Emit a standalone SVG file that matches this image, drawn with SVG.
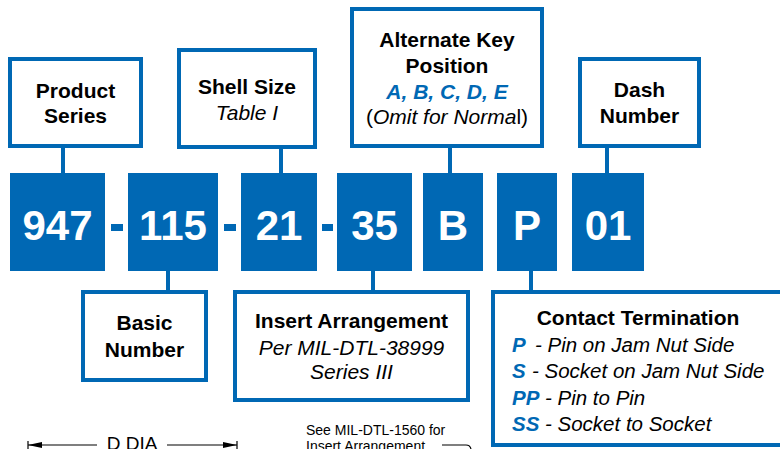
<svg xmlns="http://www.w3.org/2000/svg" width="780" height="449" viewBox="0 0 780 449">
<style>
.box{fill:#fff;stroke:#0068b4;stroke-width:4}
.blk{fill:#0068b4}
.num{font-family:"Liberation Sans",Arial,sans-serif;font-weight:bold;font-size:42px;fill:#fff;text-anchor:middle}
.lbl{font-family:"Liberation Sans",Arial,sans-serif;font-size:21px;fill:#000;text-anchor:middle}
.b{font-weight:bold}
.i{font-style:italic}
.blue{fill:#0068b4;font-weight:bold;font-style:italic}
.ct{font-family:"Liberation Sans",Arial,sans-serif;font-size:20.5px;fill:#000}
.conn line{stroke:#0068b4;stroke-width:4}
.dim{stroke:#000;stroke-width:1.2;fill:none}
.note{font-family:"Liberation Sans",Arial,sans-serif;font-size:14px;fill:#000}
</style>
<rect width="780" height="449" fill="#fff"/>
<g id="connectors" class="conn">
<line x1="63" y1="146" x2="63" y2="174"/>
<line x1="281" y1="146" x2="281" y2="174"/>
<line x1="450" y1="146" x2="450" y2="174"/>
<line x1="607" y1="146" x2="607" y2="174"/>
<line x1="168" y1="270" x2="168" y2="292"/>
<line x1="373" y1="270" x2="373" y2="292"/>
<line x1="531" y1="270" x2="531" y2="292"/>
</g>
<g id="code947"><rect class="blk" x="10" y="173" width="95" height="98"/><text class="num" x="57.5" y="240">947</text></g>
<rect class="blk" x="111" y="224" width="12" height="7"/>
<g id="code115"><rect class="blk" x="128" y="173" width="90" height="98"/><text class="num" x="173" y="240">115</text></g>
<rect class="blk" x="224" y="224" width="12" height="7"/>
<g id="code21"><rect class="blk" x="241" y="173" width="76" height="98"/><text class="num" x="279" y="240">21</text></g>
<rect class="blk" x="322" y="224" width="11" height="7"/>
<g id="code35"><rect class="blk" x="337" y="173" width="75" height="98"/><text class="num" x="374.5" y="240">35</text></g>
<g id="codeB"><rect class="blk" x="423" y="173" width="60" height="98"/><text class="num" x="453" y="240">B</text></g>
<g id="codeP"><rect class="blk" x="497" y="173" width="60" height="98"/><text class="num" x="527" y="240">P</text></g>
<g id="code01"><rect class="blk" x="572" y="173" width="72" height="98"/><text class="num" x="608" y="240">01</text></g>
<g id="productSeries"><rect class="box" x="10" y="59" width="131" height="87"/>
<text class="lbl b" x="75.5" y="98">Product</text><text class="lbl b" x="75.5" y="123">Series</text></g>
<g id="shellSize"><rect class="box" x="179" y="50" width="136" height="97"/>
<text class="lbl b" x="247" y="94">Shell Size</text><text class="lbl i" x="247" y="120">Table I</text></g>
<g id="altKey"><rect class="box" x="352" y="9" width="190" height="137"/>
<text class="lbl b" x="447" y="47">Alternate Key</text>
<text class="lbl b" x="447" y="73">Position</text>
<text class="lbl blue" x="447" y="99">A, B, C, D, E</text>
<text class="lbl" x="447" y="124">(<tspan class="i">Omit for Norma</tspan>l)</text></g>
<g id="dashNumber"><rect class="box" x="580" y="59" width="119" height="87"/>
<text class="lbl b" x="639.5" y="97">Dash</text><text class="lbl b" x="639.5" y="123">Number</text></g>
<g id="basicNumber"><rect class="box" x="83" y="292" width="123" height="88"/>
<text class="lbl b" x="144.5" y="330">Basic</text><text class="lbl b" x="144.5" y="357">Number</text></g>
<g id="insertArrangement"><rect class="box" x="235" y="292" width="233" height="108"/>
<text class="lbl b" x="351.5" y="328">Insert Arrangement</text>
<text class="lbl i" x="351.5" y="355">Per MIL-DTL-38999</text>
<text class="lbl i" x="351.5" y="379">Series III</text></g>
<g id="contactTermination"><rect class="box" x="493" y="292" width="300" height="153"/>
<text class="lbl b" x="638" y="325">Contact Termination</text>
<text class="ct" y="352"><tspan class="blue" x="512">P</tspan><tspan class="i" x="535">- Pin on Jam Nut Side</tspan></text>
<text class="ct" y="378"><tspan class="blue" x="512">S</tspan><tspan class="i" x="532">- Socket on Jam Nut Side</tspan></text>
<text class="ct" y="405"><tspan class="blue" x="512">PP</tspan><tspan class="i" x="545">- Pin to Pin</tspan></text>
<text class="ct" y="431"><tspan class="blue" x="512">SS</tspan><tspan class="i" x="545">- Socket to Socket</tspan></text></g>
<g id="dimension">
<line class="dim" x1="28" y1="445" x2="97" y2="445"/>
<line class="dim" x1="167" y1="445" x2="237" y2="445"/>
<line class="dim" x1="28" y1="441" x2="28" y2="449"/>
<line class="dim" x1="237" y1="441" x2="237" y2="449"/>
<polygon points="28,445 42,442 42,448" fill="#000"/>
<polygon points="237,445 223,442 223,448" fill="#000"/>
<text class="lbl" style="font-size:19px" x="132" y="450">D DIA</text>
</g>
<g id="note">
<text class="note" x="306" y="435">See MIL-DTL-1560 for</text>
<text class="note" x="306" y="451">Insert Arrangement</text>
<path class="dim" d="M442,445 H466 Q470,445 471,449"/>
</g>
</svg>
